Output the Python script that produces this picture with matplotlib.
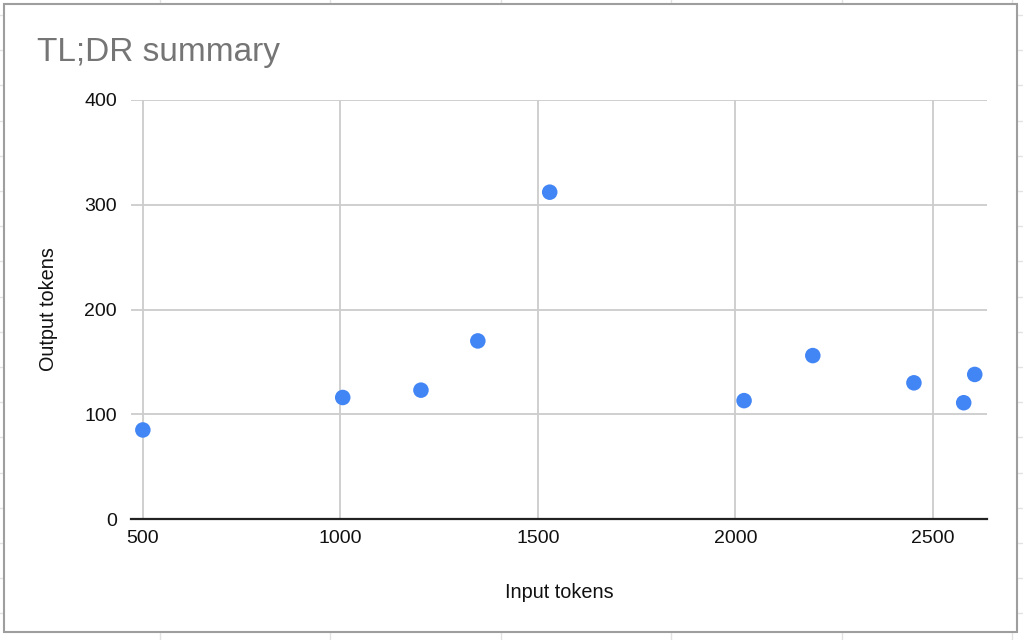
import matplotlib.pyplot as plt
from matplotlib.lines import Line2D
from matplotlib.patches import Rectangle

# Data
input_tokens = [500, 1006, 1204, 1348, 1530, 2022, 2196, 2452, 2578, 2606]
output_tokens = [85, 116, 123, 170, 312, 113, 156, 130, 111, 138]

x_ticks = [500, 1000, 1500, 2000, 2500]
y_ticks = [0, 100, 200, 300, 400]

plt.rcParams['font.family'] = ['Liberation Sans', 'DejaVu Sans']

W, H = 1023, 640
fig = plt.figure(figsize=(W / 100, H / 100), dpi=100)
fig.patch.set_facecolor('white')

# faint spreadsheet cells behind the chart
for cx in [160, 330, 501, 671, 842, 1012]:
    fig.add_artist(Line2D([cx / W, cx / W], [0, 1], color='#e2e2e2', lw=1, zorder=0))
for k in range(19):
    ry = 15 + 35.2 * k
    fig.add_artist(Line2D([0, 1], [1 - ry / H, 1 - ry / H], color='#e2e2e2', lw=1, zorder=0))

# chart card
fig.add_artist(Rectangle((4 / W, 1 - 632 / H), 1013 / W, 628 / H, facecolor='white',
                         edgecolor='#9e9e9e', lw=1.5, zorder=1))

ax = fig.add_axes([131 / W, 1 - 519 / H, (987 - 131) / W, (519 - 100) / H])
ax.set_zorder(2)
ax.set_facecolor('white')

ax.scatter(input_tokens, output_tokens, s=125, color='#4285F4', edgecolors='none', zorder=3)

ax.set_xlim(470, 2637)
ax.set_ylim(0, 400)
ax.set_xticks(x_ticks)
ax.set_yticks(y_ticks)
ax.grid(True, color='#cccccc', lw=1.3)
ax.set_axisbelow(True)
for side in ['top', 'right', 'left']:
    ax.spines[side].set_visible(False)
ax.spines['bottom'].set_color('#222222')
ax.spines['bottom'].set_linewidth(1.6)
ax.spines['bottom'].set_zorder(4)
ax.tick_params(length=0, labelsize=14, colors='#111111')
ax.tick_params(axis='x', pad=8)
ax.tick_params(axis='y', pad=10)

ax.set_xlabel('Input tokens', fontsize=14.3, color='#111111', labelpad=26)
ax.set_ylabel('Output tokens', fontsize=14.3, color='#111111', labelpad=19)

fig.text(37 / W, 1 - 52 / H, 'TL;DR summary', fontsize=24, color='#757575',
         ha='left', va='center')

fig.savefig('out.png', dpi=100, facecolor='white')
